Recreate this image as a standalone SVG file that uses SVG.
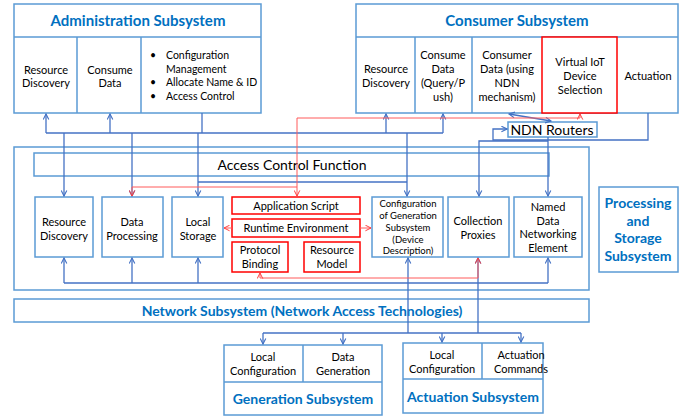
<svg xmlns="http://www.w3.org/2000/svg" width="686" height="420" viewBox="0 0 686 420">
<style>
.bx{fill:#fff;stroke:#5B9BD5;stroke-width:1.5}
.rb{fill:#fff;stroke:#FF0000;stroke-width:1.5}
.dv{stroke:#5B9BD5;stroke-width:1.5;fill:none}
.t{font-family:Lato,"Liberation Sans",sans-serif;font-size:11px;fill:#000;text-anchor:middle}
.ts{font-family:Lato,"Liberation Sans",sans-serif;font-size:9.5px;fill:#000;text-anchor:middle}
.tl{font-family:Lato,"Liberation Sans",sans-serif;font-size:10.5px;fill:#000}
.h{font-family:Lato,"Liberation Sans",sans-serif;font-size:15px;font-weight:bold;fill:#0070C0;text-anchor:middle}
.big{font-family:Lato,"Liberation Sans",sans-serif;font-size:14px;fill:#000;text-anchor:middle}
.cb{fill:none;stroke:#4472C4;stroke-width:1.3}
.cr{fill:none;stroke:#FF5B5B;stroke-width:1}
</style>
<defs>
<marker id="ab" viewBox="0 0 10 10" refX="9" refY="5" markerWidth="7" markerHeight="7" orient="auto-start-reverse" markerUnits="userSpaceOnUse"><path d="M1,1 L9,5 L1,9" fill="none" stroke="#4472C4" stroke-width="1.6"/></marker>
<marker id="ar" viewBox="0 0 10 10" refX="9" refY="5" markerWidth="7" markerHeight="7" orient="auto-start-reverse" markerUnits="userSpaceOnUse"><path d="M1,1 L9,5 L1,9" fill="none" stroke="#FF3B3B" stroke-width="1.4"/></marker>
</defs>
<rect width="686" height="420" fill="#fff"/>

<g id="admin">
<rect class="bx" x="14" y="4" width="247" height="109"/>
<path class="dv" d="M14,37 H261 M77,37 V113 M141,37 V113"/>
<text class="h" x="138" y="26">Administration Subsystem</text>
<text class="t" x="46" y="74">Resource</text>
<text class="t" x="46" y="87">Discovery</text>
<text class="t" x="110" y="74">Consume</text>
<text class="t" x="110" y="87">Data</text>
<text class="tl" x="150" y="59">•</text>
<text class="tl" x="166" y="59">Configuration</text>
<text class="tl" x="166" y="73">Management</text>
<text class="tl" x="150" y="86">•</text>
<text class="tl" x="166" y="86">Allocate Name &amp; ID</text>
<text class="tl" x="150" y="100">•</text>
<text class="tl" x="166" y="100">Access Control</text>
</g>

<g id="consumer">
<rect class="bx" x="356" y="4" width="322" height="109"/>
<path class="dv" d="M356,37 H678 M415,37 V113 M472,37 V113"/>
<rect class="rb" x="542" y="37" width="75" height="76"/>
<text class="h" x="517" y="26">Consumer Subsystem</text>
<text class="t" x="386" y="73">Resource</text>
<text class="t" x="386" y="87">Discovery</text>
<text class="t" x="443" y="59">Consume</text>
<text class="t" x="443" y="73">Data</text>
<text class="t" x="443" y="87">(Query/P</text>
<text class="t" x="443" y="101">ush)</text>
<text class="t" x="507" y="59">Consumer</text>
<text class="t" x="507" y="73">Data (using</text>
<text class="t" x="507" y="87">NDN</text>
<text class="t" x="507" y="101">mechanism)</text>
<text class="t" x="580" y="66">Virtual IoT</text>
<text class="t" x="580" y="80">Device</text>
<text class="t" x="580" y="94">Selection</text>
<text class="t" x="648" y="80">Actuation</text>
</g>

<g id="ndn-routers">
<rect class="bx" x="508" y="122" width="89" height="15"/>
<text class="big" x="552" y="134.5">NDN Routers</text>
</g>

<g id="processing-storage">
<rect class="bx" x="14" y="147" width="575" height="143"/>
</g>

<g id="access-control">
<rect class="bx" x="34" y="153" width="515" height="23"/>
<text class="big" x="292" y="169.5">Access Control Function</text>
</g>

<g id="p-resource-discovery">
<rect class="bx" x="35" y="197" width="58" height="60"/>
<text class="t" x="64" y="226">Resource</text>
<text class="t" x="64" y="240">Discovery</text>
</g>
<g id="p-data-processing">
<rect class="bx" x="102" y="197" width="61" height="60"/>
<text class="t" x="132" y="226">Data</text>
<text class="t" x="132" y="240">Processing</text>
</g>
<g id="p-local-storage">
<rect class="bx" x="172" y="197" width="51" height="60"/>
<text class="t" x="198" y="226">Local</text>
<text class="t" x="198" y="240">Storage</text>
</g>
<g id="application-script">
<rect class="rb" x="232" y="197" width="128" height="17"/>
<text class="t" x="296" y="209.5">Application Script</text>
</g>
<g id="runtime-environment">
<rect class="rb" x="232" y="219" width="128" height="18"/>
<text class="t" x="296" y="232">Runtime Environment</text>
</g>
<g id="protocol-binding">
<rect class="rb" x="232" y="242" width="56" height="30"/>
<text class="t" x="260" y="254">Protocol</text>
<text class="t" x="260" y="268">Binding</text>
</g>
<g id="resource-model">
<rect class="rb" x="304" y="242" width="56" height="30"/>
<text class="t" x="332" y="254">Resource</text>
<text class="t" x="332" y="268">Model</text>
</g>
<g id="config-generation">
<rect class="bx" x="372" y="197" width="71" height="60"/>
<text class="ts" x="408" y="207">Configuration</text>
<text class="ts" x="408" y="219">of Generation</text>
<text class="ts" x="408" y="231">Subsystem</text>
<text class="ts" x="408" y="243">(Device</text>
<text class="ts" x="408" y="254">Description)</text>
</g>
<g id="collection-proxies">
<rect class="bx" x="448" y="197" width="61" height="60"/>
<text class="t" x="478" y="225">Collection</text>
<text class="t" x="478" y="239">Proxies</text>
</g>
<g id="ndn-element">
<rect class="bx" x="514" y="197" width="68" height="60"/>
<text class="t" x="548" y="211">Named</text>
<text class="t" x="548" y="225">Data</text>
<text class="t" x="548" y="238">Networking</text>
<text class="t" x="548" y="252">Element</text>
</g>

<g id="ps-label">
<rect class="bx" x="599" y="187" width="79" height="85"/>
<text class="h" x="638" y="208" style="font-size:14px">Processing</text>
<text class="h" x="638" y="226" style="font-size:14px">and</text>
<text class="h" x="638" y="243" style="font-size:14px">Storage</text>
<text class="h" x="638" y="261" style="font-size:14px">Subsystem</text>
</g>

<g id="network">
<rect class="bx" x="14" y="299" width="575" height="23"/>
<text class="h" x="302" y="316" style="font-size:14px">Network Subsystem (Network Access Technologies)</text>
</g>

<g id="generation">
<rect class="bx" x="224" y="345" width="158" height="70"/>
<path class="dv" d="M224,382 H382 M303,345 V382"/>
<text class="t" x="263" y="361">Local</text>
<text class="t" x="263" y="375">Configuration</text>
<text class="t" x="343" y="361">Data</text>
<text class="t" x="343" y="375">Generation</text>
<text class="h" x="303" y="404" style="font-size:14px">Generation Subsystem</text>
</g>

<g id="actuation">
<rect class="bx" x="403" y="343" width="140" height="70"/>
<path class="dv" d="M403,379 H543 M482,343 V379"/>
<text class="t" x="442" y="359">Local</text>
<text class="t" x="442" y="373">Configuration</text>
<text class="t" x="521" y="359">Actuation</text>
<text class="t" x="521" y="373">Commands</text>
<text class="h" x="473" y="402" style="font-size:14px">Actuation Subsystem</text>
</g>

<g id="connectors">
<path class="cb" d="M46,133 H443"/>
<path class="cb" d="M46,133 V114" marker-end="url(#ab)"/>
<path class="cb" d="M110,133 V114" marker-end="url(#ab)"/>
<path class="cb" d="M386,133 V114" marker-end="url(#ab)"/>
<path class="cb" d="M443,133 V114" marker-end="url(#ab)"/>
<path class="cb" d="M202,113 V133"/>
<path class="cb" d="M64,133 V196" marker-end="url(#ab)"/>
<path class="cb" d="M132,133 V196" marker-end="url(#ab)"/>
<path class="cb" d="M198,133 V196" marker-end="url(#ab)"/>
<path class="cb" d="M407,133 V196" marker-end="url(#ab)"/>
<path class="cb" d="M198,182 H407"/>
<path class="cb" d="M648,113 V140 H493 V129 H507" marker-end="url(#ab)"/>
<path class="cb" d="M548,137 V196" marker-end="url(#ab)"/>
<path class="cb" d="M548,141 H479 V196" marker-end="url(#ab)"/>
<path class="cb" d="M509,114 L551,121" marker-start="url(#ab)" marker-end="url(#ab)"/>
<path class="cb" d="M64,283 H548"/>
<path class="cb" d="M64,283 V258" marker-end="url(#ab)"/>
<path class="cb" d="M132,283 V258" marker-end="url(#ab)"/>
<path class="cb" d="M198,283 V258" marker-end="url(#ab)"/>
<path class="cb" d="M548,283 V258" marker-end="url(#ab)"/>
<path class="cb" d="M408,333 V258" marker-end="url(#ab)"/>
<path class="cb" d="M478,333 V258" marker-end="url(#ab)"/>
<path class="cb" d="M263,333 H521"/>
<path class="cb" d="M263,333 V344" marker-end="url(#ab)"/>
<path class="cb" d="M343,333 V344" marker-end="url(#ab)"/>
<path class="cb" d="M442,333 V342" marker-end="url(#ab)"/>
<path class="cb" d="M521,333 V342" marker-end="url(#ab)"/>
<path class="cr" d="M580,114 V118 H297 V196" marker-start="url(#ar)" marker-end="url(#ar)"/>
<path class="cr" d="M297,187 H132 V196" marker-end="url(#ar)"/>
<path class="cr" d="M232,228 H224" marker-end="url(#ar)"/>
<path class="cr" d="M360,228 H371" marker-end="url(#ar)"/>
<path class="cr" d="M260,273 V278 H478 V258" marker-start="url(#ar)" marker-end="url(#ar)"/>
</g>
</svg>
